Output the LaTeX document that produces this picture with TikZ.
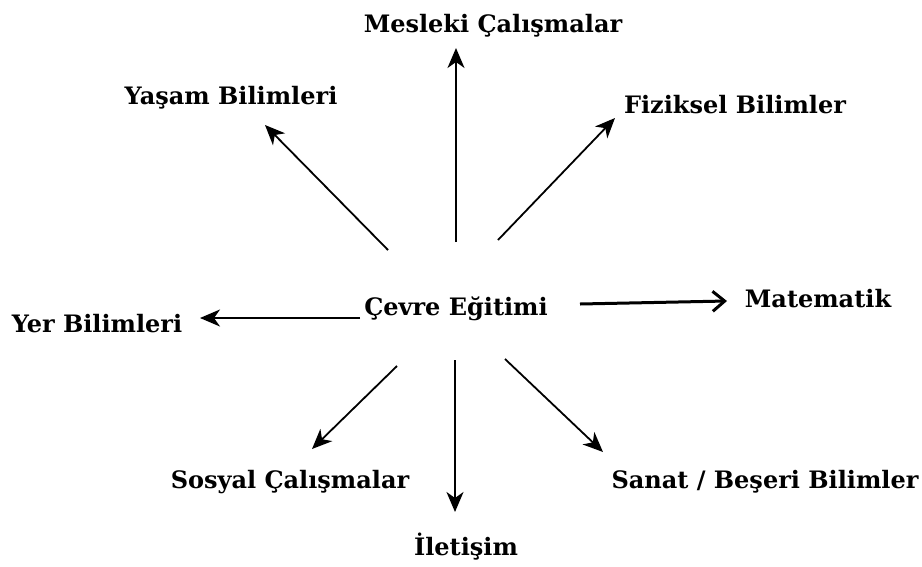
\documentclass[tikz,border=0pt]{standalone}
\usepackage{fontspec}
\setmainfont{DejaVu Serif}
\usetikzlibrary{arrows.meta}
\tikzset{
  lbl/.style={anchor=base,inner sep=0pt,font=\fontsize{24}{28}\selectfont\bfseries},
  ray/.style={-{Stealth[length=20pt,width=17pt,inset=6pt]},line width=1.8pt}
}

\begin{document}
\begin{tikzpicture}[x=1pt,y=-1pt]
\useasboundingbox (0,0) rectangle (922,566);
% labels
\node[lbl] (cevre) at (456,315) {Çevre Eğitimi};
\node[lbl] (meslek) at (493,32) {Mesleki Çalışmalar};
\node[lbl] (yasam) at (231,104) {Yaşam Bilimleri};
\node[lbl] (fizik) at (735,113) {Fiziksel Bilimler};
\node[lbl] (mat) at (818,307) {Matematik};
\node[lbl] (yer) at (97,332) {Yer Bilimleri};
\node[lbl] (sosyal) at (290,488) {Sosyal Çalışmalar};
\node[lbl] (ileti) at (466,555) {İletişim};
\node[lbl] (sanat) at (765,488) {Sanat / Beşeri Bilimler};
% arrow ends
\coordinate (t1) at (456,242); \coordinate (h1) at (456,48);
\coordinate (t2) at (388,250); \coordinate (h2) at (265,125);
\coordinate (t3) at (498,240); \coordinate (h3) at (615,118);
\coordinate (t4) at (580,304); \coordinate (h4) at (727,301);
\coordinate (t5) at (360,318); \coordinate (h5) at (200,318);
\coordinate (t6) at (397,366); \coordinate (h6) at (312,449);
\coordinate (t7) at (455,360); \coordinate (h7) at (455,512);
\coordinate (t8) at (505,359); \coordinate (h8) at (603,452);
\foreach \i in {1,2,3,5,6,7,8}
  \draw[ray] (t\i) -- (h\i);
\draw[-{Straight Barb[length=12pt,width=20pt]},line width=3pt] (t4) -- (h4);
\end{tikzpicture}
\end{document}
